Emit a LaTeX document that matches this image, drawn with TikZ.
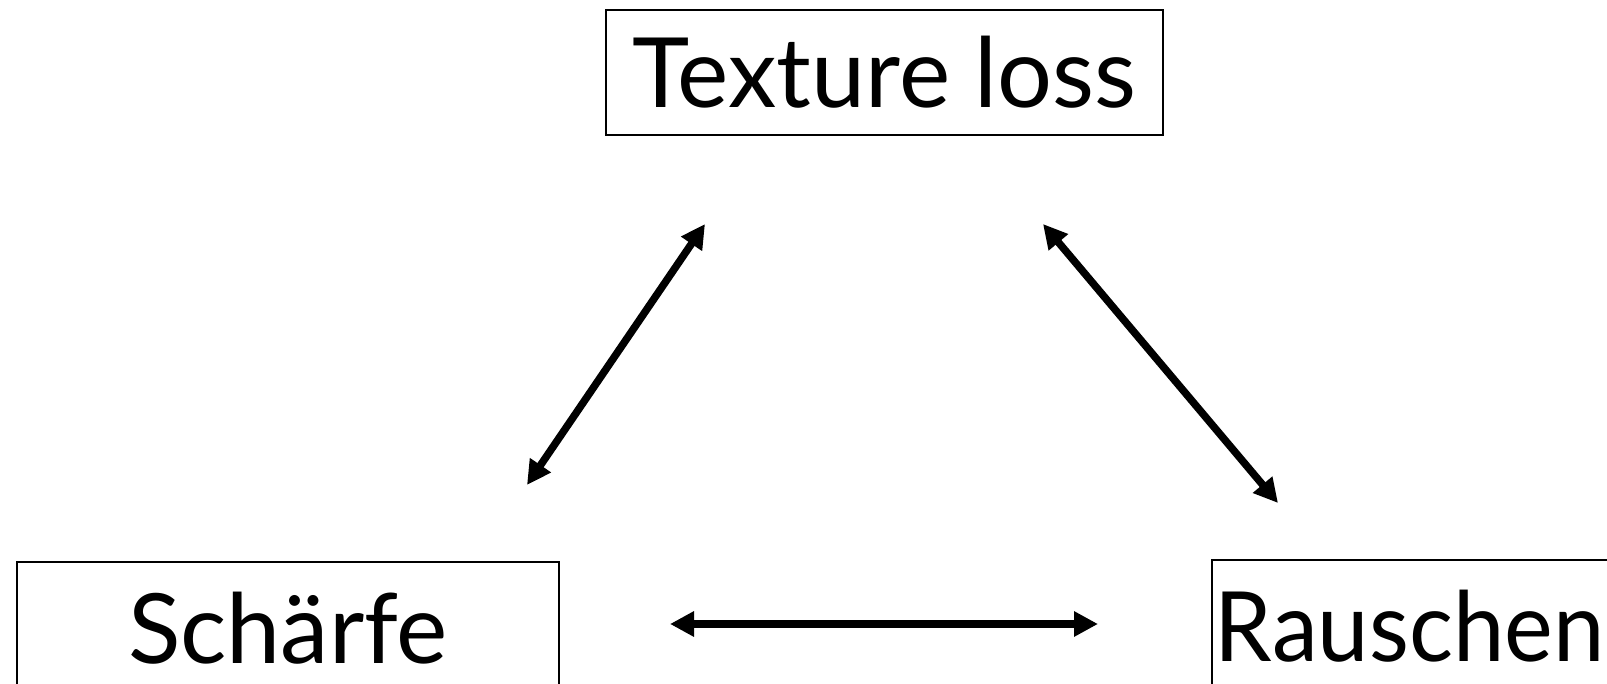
\documentclass[tikz,border=0pt]{standalone}
\usepackage{fontspec}
\setmainfont{Lato}
\usetikzlibrary{arrows.meta}
\begin{document}
\begin{tikzpicture}[x=1pt,y=-1pt,
  box/.style={draw, line width=1.8pt, inner sep=0pt, font=\fontsize{97}{97}\selectfont},
  link/.style={line width=7.5pt, {Triangle[length=24pt,width=24pt]}-{Triangle[length=24pt,width=24pt]}}]
\useasboundingbox (0,0) rectangle (1607,684);
\node[box, minimum width=557pt, minimum height=125pt] (tex) at (884.5,72.5) {Texture loss};
\node[box, minimum width=542pt, minimum height=132pt] (sch) at (288,628) {Schärfe};
\node[box, anchor=north west, inner xsep=3pt, minimum height=132pt] (rau) at (1211,559) {\scalebox{0.95}[1]{Rauschen}};
\coordinate (a1s) at (527,485);
\coordinate (a1e) at (705,224);
\coordinate (a2s) at (1043,224);
\coordinate (a2e) at (1278,503);
\coordinate (a3s) at (670,624);
\coordinate (a3e) at (1098,624);
\draw[link] (a1s) -- (a1e);
\draw[link] (a2s) -- (a2e);
\draw[link] (a3s) -- (a3e);
\end{tikzpicture}
\end{document}
